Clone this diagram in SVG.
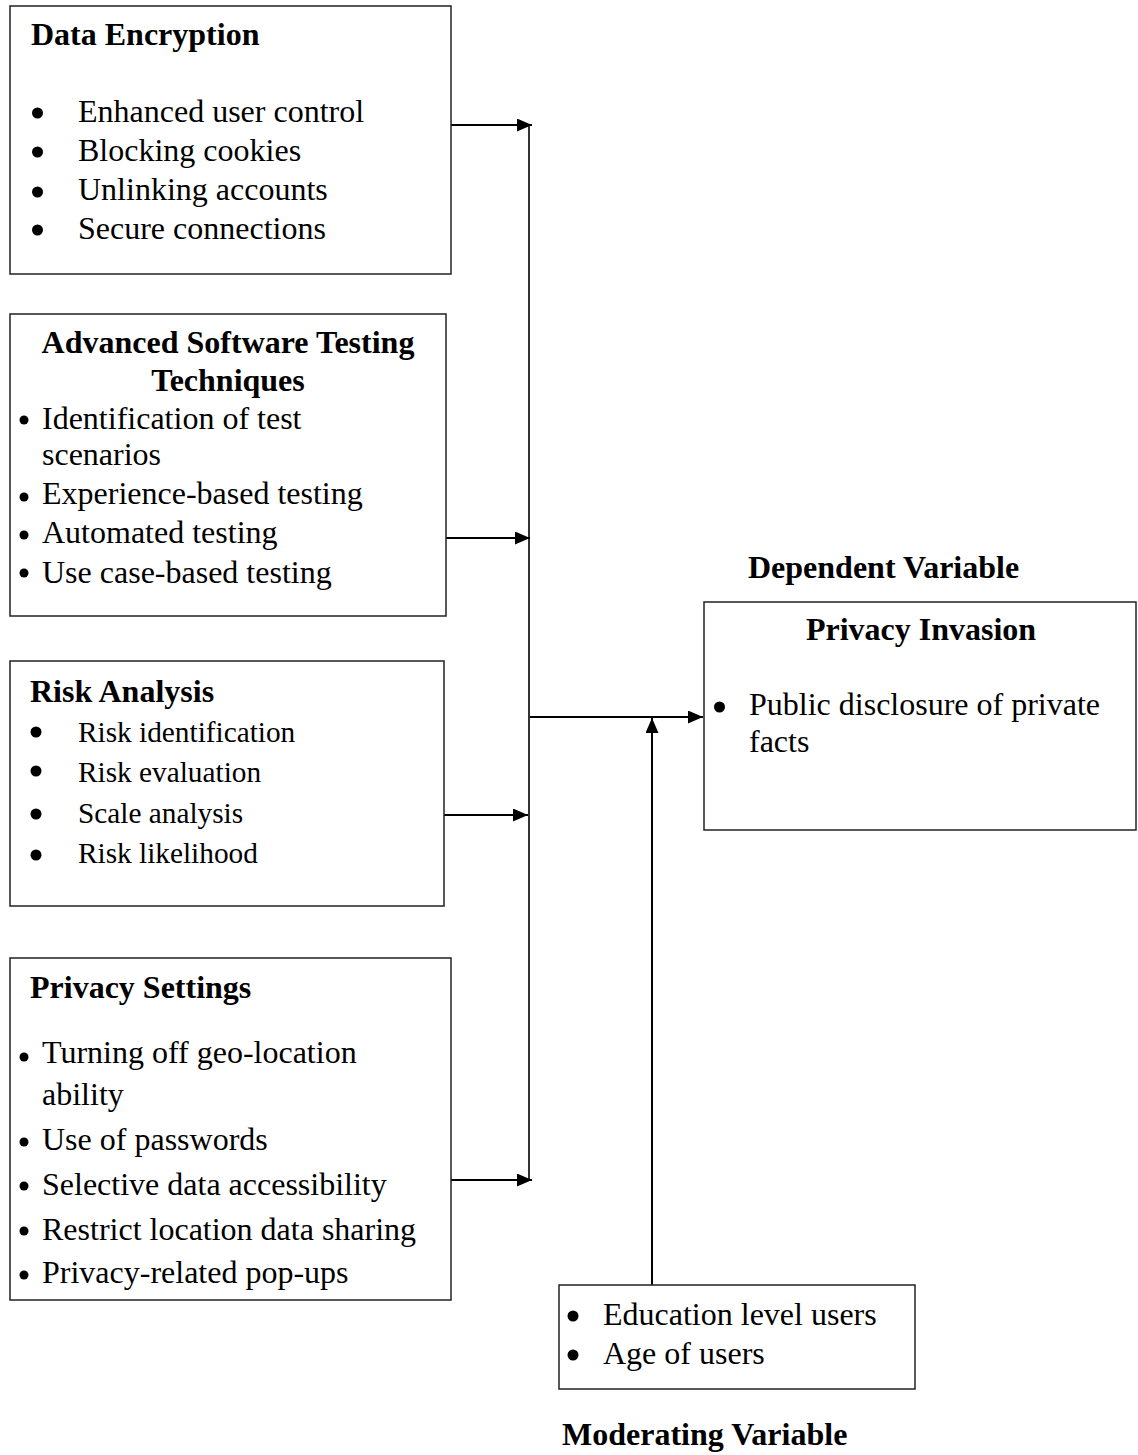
<svg xmlns="http://www.w3.org/2000/svg" width="1138" height="1455" viewBox="0 0 1138 1455">
<style>
.box{fill:#fff;stroke:#222;stroke-width:1.5}
.t{font-family:"Liberation Serif","Times New Roman",serif;font-size:32px;fill:#000}
.b{font-weight:bold}
.s{font-size:29.3px}
.dot{fill:#000}
.ln{stroke:#000;stroke-width:2;fill:none}
.vl{stroke:#000;stroke-width:1.6;fill:none}
</style>
<defs>
<marker id="ah" markerWidth="15" markerHeight="13" refX="15" refY="6.5" orient="auto" markerUnits="userSpaceOnUse">
<path d="M0,0 L15,6.5 L0,13 Z" fill="#000"/>
</marker>
</defs>
<rect width="1138" height="1455" fill="#fff"/>

<g id="connectors">
<line class="vl" x1="529" y1="124" x2="529" y2="1181"/>
<line class="ln" x1="451" y1="125" x2="532" y2="125" marker-end="url(#ah)"/>
<line class="ln" x1="446" y1="538" x2="530" y2="538" marker-end="url(#ah)"/>
<line class="ln" x1="444" y1="815" x2="528" y2="815" marker-end="url(#ah)"/>
<line class="ln" x1="451" y1="1180" x2="532" y2="1180" marker-end="url(#ah)"/>
<line class="ln" x1="530" y1="717" x2="703" y2="717" marker-end="url(#ah)"/>
<line class="ln" x1="652" y1="1285" x2="652" y2="718" marker-end="url(#ah)"/>
</g>

<g id="data-encryption">
<rect class="box" x="10" y="6" width="441" height="268"/>
<text class="t b" x="31" y="45">Data Encryption</text>
<circle class="dot" cx="37.5" cy="113" r="5.5"/><text class="t" x="78" y="122">Enhanced user control</text>
<circle class="dot" cx="37.5" cy="152" r="5.5"/><text class="t" x="78" y="161">Blocking cookies</text>
<circle class="dot" cx="37.5" cy="192" r="5.5"/><text class="t" x="78" y="200">Unlinking accounts</text>
<circle class="dot" cx="37.5" cy="230" r="5.5"/><text class="t" x="78" y="239">Secure connections</text>
</g>

<g id="software-testing">
<rect class="box" x="10" y="314" width="436" height="302"/>
<text class="t b" x="228" y="353" text-anchor="middle">Advanced Software Testing</text>
<text class="t b" x="228" y="391" text-anchor="middle">Techniques</text>
<circle class="dot" cx="24" cy="420" r="4.5"/><text class="t" x="42" y="429">Identification of test</text>
<text class="t" x="42" y="465">scenarios</text>
<circle class="dot" cx="24" cy="497" r="4.5"/><text class="t" x="42" y="504">Experience-based testing</text>
<circle class="dot" cx="24" cy="535" r="4.5"/><text class="t" x="42" y="543">Automated testing</text>
<circle class="dot" cx="24" cy="573" r="4.5"/><text class="t" x="42" y="583">Use case-based testing</text>
</g>

<g id="risk-analysis">
<rect class="box" x="10" y="661" width="434" height="245"/>
<text class="t b" x="30" y="702">Risk Analysis</text>
<circle class="dot" cx="36" cy="732" r="5.5"/><text class="t s" x="78" y="742">Risk identification</text>
<circle class="dot" cx="36" cy="771" r="5.5"/><text class="t s" x="78" y="782">Risk evaluation</text>
<circle class="dot" cx="36" cy="814" r="5.5"/><text class="t s" x="78" y="823">Scale analysis</text>
<circle class="dot" cx="36" cy="855" r="5.5"/><text class="t s" x="78" y="863">Risk likelihood</text>
</g>

<g id="privacy-settings">
<rect class="box" x="10" y="958" width="441" height="342"/>
<text class="t b" x="30" y="998">Privacy Settings</text>
<circle class="dot" cx="24" cy="1057" r="4.5"/><text class="t" x="42" y="1063">Turning off geo-location</text>
<text class="t" x="42" y="1105">ability</text>
<circle class="dot" cx="24" cy="1142" r="4.5"/><text class="t" x="42" y="1150">Use of passwords</text>
<circle class="dot" cx="24" cy="1186" r="4.5"/><text class="t" x="42" y="1195">Selective data accessibility</text>
<circle class="dot" cx="24" cy="1231" r="4.5"/><text class="t" x="42" y="1240">Restrict location data sharing</text>
<circle class="dot" cx="24" cy="1275" r="4.5"/><text class="t" x="42" y="1283">Privacy-related pop-ups</text>
</g>

<g id="privacy-invasion">
<text class="t b" x="748" y="578">Dependent Variable</text>
<rect class="box" x="704" y="602" width="432" height="228"/>
<text class="t b" x="921" y="640" text-anchor="middle">Privacy Invasion</text>
<circle class="dot" cx="719.5" cy="707" r="5.5"/><text class="t" x="749" y="715">Public disclosure of private</text>
<text class="t" x="749" y="752">facts</text>
</g>

<g id="moderating">
<rect class="box" x="559" y="1285" width="356" height="104"/>
<circle class="dot" cx="573" cy="1316" r="5.5"/><text class="t" x="603" y="1325">Education level users</text>
<circle class="dot" cx="573" cy="1355" r="5.5"/><text class="t" x="603" y="1364">Age of users</text>
<text class="t b" x="562" y="1445">Moderating Variable</text>
</g>
</svg>
